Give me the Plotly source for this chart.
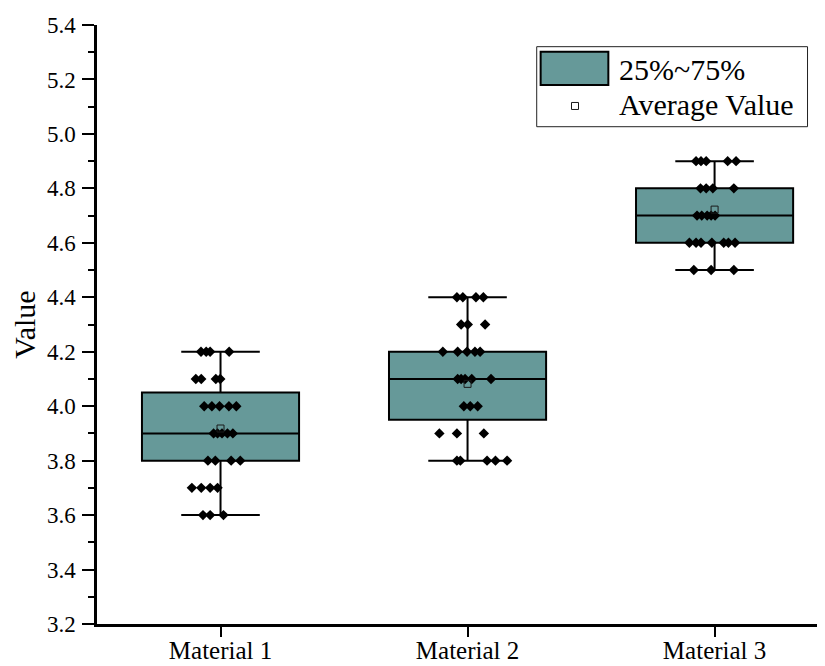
import plotly.graph_objects as go

# ---------------- data ----------------
categories = ["Material 1", "Material 2", "Material 3"]
cat_pos = [1, 2, 3]

q1 = [3.80, 3.95, 4.60]
medians = [3.90, 4.10, 4.70]
q3 = [4.05, 4.20, 4.80]
lower_whisker = [3.60, 3.80, 4.50]
upper_whisker = [4.20, 4.40, 4.90]
means = [3.918, 4.082, 4.722]

m1_values = [4.2, 4.2, 4.2, 4.2,
             4.1, 4.1, 4.1, 4.1,
             4.0, 4.0, 4.0, 4.0, 4.0,
             3.9, 3.9, 3.9, 3.9, 3.9,
             3.8, 3.8, 3.8, 3.8,
             3.7, 3.7, 3.7, 3.7,
             3.6, 3.6, 3.6]
m1_jitter = [-0.079, -0.058, -0.042, 0.035,
             -0.100, -0.078, -0.019, -0.001,
             -0.066, -0.035, -0.004, 0.034, 0.064,
             -0.028, -0.012, 0.006, 0.028, 0.050,
             -0.051, -0.021, 0.043, 0.080,
             -0.116, -0.078, -0.042, -0.012,
             -0.071, -0.042, 0.012]

m2_values = [4.4, 4.4, 4.4, 4.4,
             4.3, 4.3, 4.3,
             4.2, 4.2, 4.2, 4.2, 4.2,
             4.1, 4.1, 4.1, 4.1, 4.1,
             4.0, 4.0, 4.0,
             3.9, 3.9, 3.9,
             3.8, 3.8, 3.8, 3.8, 3.8]
m2_jitter = [-0.043, -0.019, 0.034, 0.064,
             -0.026, 0.001, 0.071,
             -0.100, -0.040, -0.002, 0.030, 0.051,
             -0.040, -0.026, -0.010, 0.017, 0.095,
             -0.015, 0.011, 0.041,
             -0.114, -0.043, 0.066,
             -0.043, -0.029, 0.079, 0.113, 0.160]

m3_values = [4.9, 4.9, 4.9, 4.9, 4.9,
             4.8, 4.8, 4.8, 4.8,
             4.7, 4.7, 4.7, 4.7, 4.7,
             4.6, 4.6, 4.6, 4.6, 4.6, 4.6, 4.6,
             4.5, 4.5, 4.5]
m3_jitter = [-0.075, -0.055, -0.034, 0.053, 0.087,
             -0.057, -0.034, -0.007, 0.078,
             -0.071, -0.052, -0.030, -0.014, 0.002,
             -0.102, -0.075, -0.055, -0.011, 0.037, 0.056, 0.083,
             -0.084, -0.014, 0.078]

legend_labels = ["25%~75%", "Average Value"]

FONT = "Liberation Serif, Times New Roman, serif"
BOX_FILL = "#669999"

fig = go.Figure()

fig.add_trace(go.Box(
    x=cat_pos, q1=q1, median=medians, q3=q3,
    lowerfence=lower_whisker, upperfence=upper_whisker,
    width=0.636, whiskerwidth=0.5,
    fillcolor=BOX_FILL, line=dict(color="black", width=2),
    boxpoints=False, showlegend=False, hoverinfo="skip",
    name=legend_labels[0],
))

for pos, vals, jit in zip(cat_pos, [m1_values, m2_values, m3_values],
                          [m1_jitter, m2_jitter, m3_jitter]):
    fig.add_trace(go.Scatter(
        x=[pos + j for j in jit], y=vals, mode="markers",
        marker=dict(symbol="diamond", size=8, color="black"),
        showlegend=False, hoverinfo="y",
    ))

fig.add_trace(go.Scatter(
    x=cat_pos, y=means, mode="markers", name=legend_labels[1],
    marker=dict(symbol="square-open", size=7, color="#1a1a1a",
                line=dict(width=1)),
    showlegend=False,
))

# ---------- custom legend (paper coordinates) ----------
fig.add_shape(type="rect", xref="paper", yref="paper",
              x0=0.604, x1=0.976, y0=0.8302, y1=0.9638,
              line=dict(color="#222222", width=1), fillcolor="white", layer="below")
fig.add_shape(type="rect", xref="paper", yref="paper",
              x0=0.6094, x1=0.7024, y0=0.8998, y1=0.9554,
              line=dict(color="black", width=2), fillcolor=BOX_FILL, layer="below")
fig.add_trace(go.Scatter(
    x=[0.6566], y=[0.8648], xaxis="x2", yaxis="y2", mode="markers",
    marker=dict(symbol="square-open", size=7, color="#1a1a1a", line=dict(width=1)),
    showlegend=False, hoverinfo="skip",
))
fig.add_annotation(xref="paper", yref="paper", x=0.7139, y=0.9265,
                   xanchor="left", yanchor="middle", showarrow=False,
                   text=legend_labels[0], font=dict(family=FONT, size=30, color="black"))
fig.add_annotation(xref="paper", yref="paper", x=0.7139, y=0.8680,
                   xanchor="left", yanchor="middle", showarrow=False,
                   text=legend_labels[1], font=dict(family=FONT, size=30, color="black"))

# page body has an 8px default margin, so the figure is drawn 8px in from the corner
fig.update_layout(
    width=817, height=658,
    margin=dict(l=89, r=0, t=17, b=42, autoexpand=False),
    plot_bgcolor="white", paper_bgcolor="white",
    showlegend=False,
    font=dict(family=FONT, color="black"),
    xaxis=dict(
        range=[0.5, 3.447], tickvals=cat_pos, ticktext=categories,
        ticks="outside", ticklen=10, tickwidth=2, tickcolor="black",
        showline=True, linewidth=2.5, linecolor="black",
        showgrid=False, zeroline=False, automargin=False,
        tickfont=dict(family=FONT, size=25, color="black"),
        ticklabelstandoff=-8,
    ),
    yaxis=dict(
        range=[3.2, 5.4], tick0=3.2, dtick=0.2, tickformat=".1f",
        ticks="outside", ticklen=12, tickwidth=2, tickcolor="black",
        showline=True, linewidth=2.5, linecolor="black",
        showgrid=False, zeroline=False, automargin=False,
        minor=dict(tick0=3.2, dtick=0.1, ticks="outside", ticklen=6,
                   tickwidth=2, tickcolor="black", showgrid=False),
        tickfont=dict(family=FONT, size=23, color="black"),
        ticklabelstandoff=2,
        title=dict(text="Value", font=dict(family=FONT, size=30, color="black"),
                   standoff=10),
    ),
    xaxis2=dict(range=[0, 1], domain=[0, 1], overlaying="x", visible=False,
                fixedrange=True),
    yaxis2=dict(range=[0, 1], domain=[0, 1], overlaying="y", visible=False,
                fixedrange=True),
)

fig.write_html("out.html")
